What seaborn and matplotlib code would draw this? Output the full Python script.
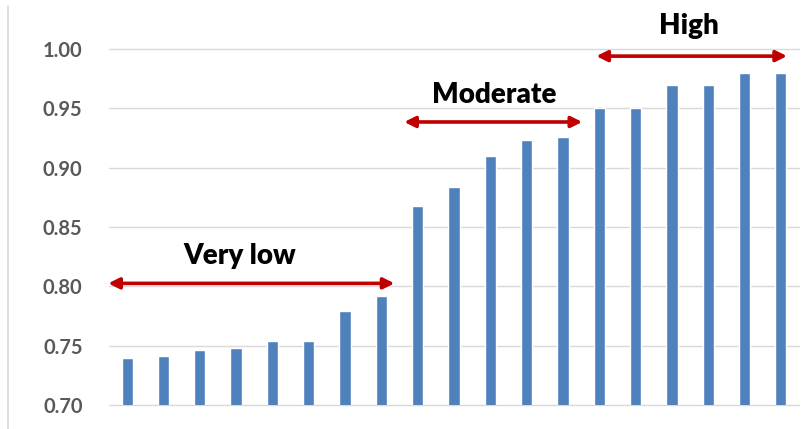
import matplotlib
matplotlib.use("Agg")
import matplotlib.pyplot as plt
from matplotlib.lines import Line2D
import seaborn as sns
import pandas as pd

# Scores per item, sorted ascending
items = [str(i) for i in range(1, 20)]
scores = [0.740, 0.741, 0.746, 0.748, 0.754, 0.754, 0.779, 0.792,
          0.868, 0.884, 0.910, 0.923, 0.926,
          0.950, 0.950, 0.970, 0.970, 0.980, 0.980]
y_ticks = [0.70, 0.75, 0.80, 0.85, 0.90, 0.95, 1.00]

# Bands: label, arrow start/end (x), arrow y, label x, label baseline y
band_labels = ["Very low", "Moderate", "High"]
band_x0 = [-0.52, 7.63, 12.92]
band_x1 = [7.36, 12.53, 18.17]
band_arrow_y = [0.8025, 0.9385, 0.9940]
band_text_x = [3.09, 10.12, 15.48]
band_text_y = [0.8185, 0.9545, 1.0128]

sns.set_theme(style="white")
plt.rcParams["font.family"] = ["Lato", "DejaVu Sans"]

df = pd.DataFrame({"item": items, "score": scores})

fig = plt.figure(figsize=(8.12, 4.29), dpi=100)
ax = fig.add_axes([109 / 812, 24 / 429, 690 / 812, 356 / 429])

sns.barplot(data=df, x="item", y="score", color="#4F81BD", saturation=1,
            width=0.31, ax=ax, zorder=2)

ax.set_ylim(0.70, 1.00)
ax.set_xlim(-0.5, len(items) - 0.5)
ax.set_yticks(y_ticks)
ax.set_yticklabels([f"{t:.2f}" for t in y_ticks], fontsize=14.5,
                   fontweight="bold", color="#595959")
ax.tick_params(axis="y", length=0, pad=19)
ax.set_xticks([])
ax.set_xlabel("")
ax.set_ylabel("")
for s in ax.spines.values():
    s.set_visible(False)

# horizontal gridlines
for t in y_ticks:
    ax.axhline(t, color="#D9D9D9", lw=1.0, zorder=0, clip_on=False)

# band arrows and labels
for lab, x0, x1, ya, tx, ty in zip(band_labels, band_x0, band_x1,
                                    band_arrow_y, band_text_x, band_text_y):
    ax.annotate("", xy=(x1, ya), xytext=(x0, ya),
                arrowprops=dict(arrowstyle="<|-|>", color="#C00000", lw=2.6,
                                mutation_scale=16, shrinkA=0, shrinkB=0),
                annotation_clip=False, zorder=5)
    ax.text(tx, ty, lab, ha="center", va="baseline", fontsize=20,
            fontweight="heavy", color="black", clip_on=False, zorder=5)

# chart border on the left
fig.add_artist(Line2D([7.5 / 812, 7.5 / 812], [0, 1 - 6 / 429],
                      transform=fig.transFigure, color="#D9D9D9", lw=1.2))

fig.savefig("out.png", dpi=100)
